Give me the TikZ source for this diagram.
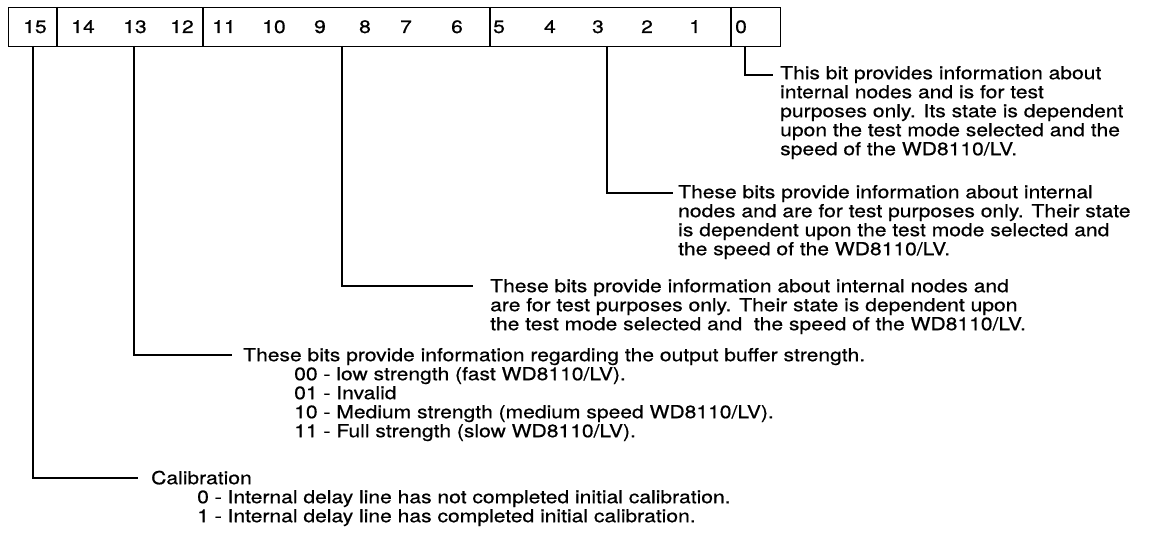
\documentclass[tikz,border=0pt]{standalone}
\usepackage{fontspec}
\setmainfont[FakeStretch=1.17,FakeBold=0.6]{TeX Gyre Heros}
\begin{document}
\begin{tikzpicture}[x=1pt,y=-1pt,
  txt/.style={font=\fontsize{18}{19}\selectfont},
  bitlbl/.style={txt,anchor=base,inner sep=0pt},
  desc/.style={txt,align=left,anchor=north west,inner sep=0pt},
  regline/.style={line width=1.3pt},
  leader/.style={line width=1.1pt}]
\useasboundingbox[fill=white] (0,0) rectangle (1155,535);
% register
\node[draw,regline,anchor=north west,minimum width=772pt,minimum height=39pt,inner sep=0pt] (reg) at (8,7) {};
\foreach \x in {57,203,490,731} \draw[regline] (\x,7) -- (\x,46);
\foreach \b/\x in {15/35,14/83,13/135,12/182,11/224,10/274,9/320,8/365,7/406,6/457,5/499,4/550,3/598,2/647,1/695,0/741}
  \node[bitlbl] (d\b) at (\x,33) {\b};
% leader start points (box bottom)
\coordinate (p0) at (745,46);
\coordinate (p3) at (607,46);
\coordinate (p8) at (342,46);
\coordinate (p13) at (134,46);
\coordinate (p15) at (33,46);
% leader end points
\coordinate (k0) at (773,75);
\coordinate (k3) at (673,193);
\coordinate (k8) at (473,286);
\coordinate (k13) at (232,355);
\coordinate (k15) at (138,478);
% descriptions
\node[desc] (t0) at (780,65) {\rule{0pt}{14pt}This bit provides information about\\
internal nodes and is for test\\
purposes only. Its state is dependent\\
upon the test mode selected and the\\
speed of the WD8110/LV.};
\node[desc] (t3) at (678,184) {\rule{0pt}{14pt}These bits provide information about internal\\
nodes and are for test purposes only. Their state\\
is dependent upon the test mode selected and\\
the speed of the WD8110/LV.};
\node[desc] (t8) at (490,278) {\rule{0pt}{14pt}These bits provide information about internal nodes and\\
are for test purposes only. Their state is dependent upon\\
the test mode selected and\ \ the speed of the WD8110/LV.};
\node[desc] (t13) at (243,347) {\rule{0pt}{14pt}These bits provide information regarding the output buffer strength.\\
\hspace*{51pt}00 - low strength (fast WD8110/LV).\\
\hspace*{51pt}01 - Invalid\\
\hspace*{51pt}10 - Medium strength (medium speed WD8110/LV).\\
\hspace*{51pt}11 - Full strength (slow WD8110/LV).};
\node[desc] (t15) at (151,470) {\rule{0pt}{14pt}Calibration\\
\hspace*{46pt}0 - Internal delay line has not completed initial calibration.\\
\hspace*{46pt}1 - Internal delay line has completed initial calibration.};
% leaders
\draw[leader] (p0) |- (k0);
\draw[leader] (p3) |- (k3);
\draw[leader] (p8) |- (k8);
\draw[leader] (p13) |- (k13);
\draw[leader] (p15) |- (k15);
\end{tikzpicture}
\end{document}
